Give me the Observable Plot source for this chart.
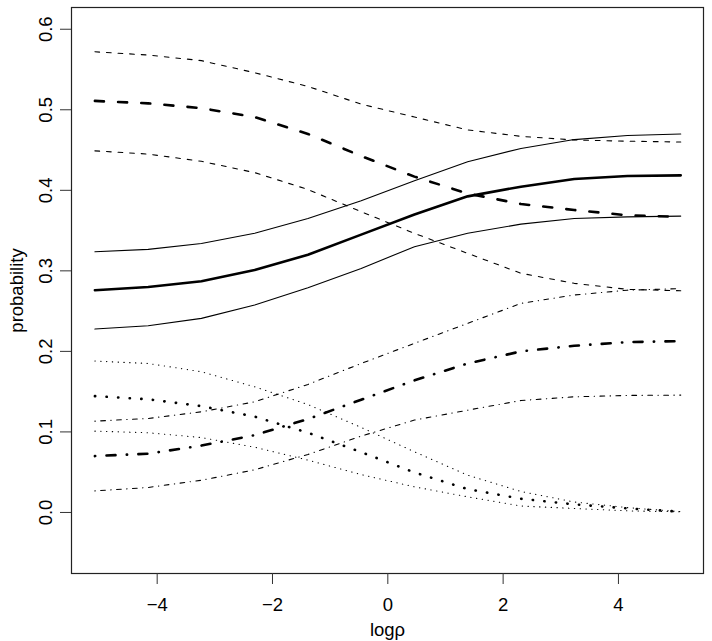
<!DOCTYPE html>
<html><head><meta charset="utf-8">
<script src="https://cdn.jsdelivr.net/npm/d3@7"></script>
<script src="https://cdn.jsdelivr.net/npm/@observablehq/plot@0.6"></script>
<style>body{margin:0;background:#fff} #chart{width:712px;height:641px}</style>
</head><body><div id="chart"></div>
<script>
// x positions (logρ)
const logRho = [-5.08, -4.156, -3.233, -2.309, -1.385, -0.462, 0.462, 1.385, 2.309, 3.233, 4.156, 5.08];

// dashed group
const dashedUpper = [0.572, 0.568, 0.561, 0.546, 0.529, 0.507, 0.491, 0.475, 0.467, 0.4625, 0.461, 0.460];
const dashedMean  = [0.511, 0.508, 0.502, 0.491, 0.470, 0.4426, 0.417, 0.396, 0.383, 0.3755, 0.369, 0.367];
const dashedLower = [0.449, 0.445, 0.436, 0.422, 0.401, 0.3734, 0.3466, 0.3217, 0.297, 0.2845, 0.277, 0.2753];
// solid group
const solidUpper = [0.3237, 0.3267, 0.334, 0.3466, 0.365, 0.387, 0.412, 0.4355, 0.452, 0.463, 0.468, 0.470];
const solidMean  = [0.276, 0.280, 0.287, 0.301, 0.320, 0.345, 0.370, 0.3925, 0.4045, 0.414, 0.4178, 0.4186];
const solidLower = [0.2277, 0.2318, 0.241, 0.2575, 0.279, 0.303, 0.330, 0.3466, 0.358, 0.365, 0.367, 0.368];
// dot-dash group
const dotdashUpper = [0.1134, 0.1167, 0.125, 0.1374, 0.159, 0.185, 0.210, 0.2348, 0.2596, 0.270, 0.276, 0.278];
const dotdashMean  = [0.070, 0.073, 0.083, 0.096, 0.116, 0.140, 0.164, 0.185, 0.200, 0.207, 0.2115, 0.2128];
const dotdashLower = [0.0268, 0.031, 0.040, 0.053, 0.072, 0.0948, 0.1147, 0.127, 0.139, 0.1436, 0.1453, 0.1457];
// dotted group
const dottedUpper = [0.188, 0.185, 0.1747, 0.156, 0.134, 0.1056, 0.0753, 0.0463, 0.026, 0.013, 0.006, 0.001];
const dottedMean  = [0.1445, 0.1405, 0.132, 0.119, 0.099, 0.0749, 0.0497, 0.029, 0.017, 0.010, 0.005, 0.001];
const dottedLower = [0.101, 0.099, 0.093, 0.081, 0.065, 0.047, 0.0318, 0.0194, 0.008, 0.005, 0.002, 0.0008];

const xTicks = [-4, -2, 0, 2, 4];
const yTicks = [0, 0.1, 0.2, 0.3, 0.4, 0.5, 0.6];

// styles (kept apart from data): R-like lty patterns drawn with round caps
const u = 1.45;
const thin = 1.1, thick = 2.6;
const pattern = {dashed: [4, 4], dotted: [1, 3], dotdash: [1, 3, 4, 3], solid: null};
function dashArray(lty, scale, width) {
  const p = pattern[lty];
  if (!p) return null;
  return p.map((v, i) => i % 2 === 0
    ? Math.max(0.01, v * u * scale - width)
    : v * u * scale + width).join(",");
}
const seriesList = [
  {values: dashedUpper, lty: "dashed", w: 1},
  {values: dashedMean, lty: "dashed", w: 2},
  {values: dashedLower, lty: "dashed", w: 1},
  {values: solidUpper, lty: "solid", w: 1},
  {values: solidMean, lty: "solid", w: 2},
  {values: solidLower, lty: "solid", w: 1},
  {values: dotdashUpper, lty: "dotdash", w: 1},
  {values: dotdashMean, lty: "dotdash", w: 2},
  {values: dotdashLower, lty: "dotdash", w: 1},
  {values: dottedUpper, lty: "dotted", w: 1},
  {values: dottedMean, lty: "dotted", w: 2},
  {values: dottedLower, lty: "dotted", w: 1}
];

const lineMarks = seriesList.map(s => {
  const rows = logRho.map((x, i) => ({x, y: s.values[i]}));
  const width = s.w === 2 ? thick : thin;
  return Plot.line(rows, {
    x: "x", y: "y", stroke: "black",
    strokeWidth: width,
    strokeDasharray: dashArray(s.lty, s.w, width),
    strokeLinecap: "round", strokeLinejoin: "round"
  });
});

const fs = 18.5;
const chart = Plot.plot({
  width: 712, height: 641,
  marginLeft: 71, marginRight: 9, marginTop: 7, marginBottom: 68,
  style: {fontFamily: "'Liberation Sans', Arial, Helvetica, sans-serif", fontSize: fs + "px", background: "#fff"},
  x: {domain: [-5.486, 5.475]},
  y: {domain: [-0.0758, 0.627]},
  marks: [
    ...lineMarks,
    Plot.frame({stroke: "#222", strokeWidth: 1.2}),
    Plot.axisX({ticks: xTicks, tickSize: 11, tickPadding: 13, fontSize: fs, label: null, stroke: "#333"}),
    Plot.axisY({ticks: yTicks, tickSize: 11, tickFormat: () => "", label: null, stroke: "#333"}),
    Plot.text(yTicks, {y: d => d, text: d => d.toFixed(1), frameAnchor: "left", dx: -25, rotate: -90, textAnchor: "middle", lineAnchor: "middle", fontSize: fs}),
    Plot.text(["probability"], {text: d => d, frameAnchor: "left", dx: -54, rotate: -90, textAnchor: "middle", lineAnchor: "middle", fontSize: fs}),
    Plot.text(["logρ"], {text: d => d, frameAnchor: "bottom", dy: 57, textAnchor: "middle", lineAnchor: "middle", fontSize: fs})
  ]
});
document.getElementById("chart").appendChild(chart);
</script>
</body></html>
